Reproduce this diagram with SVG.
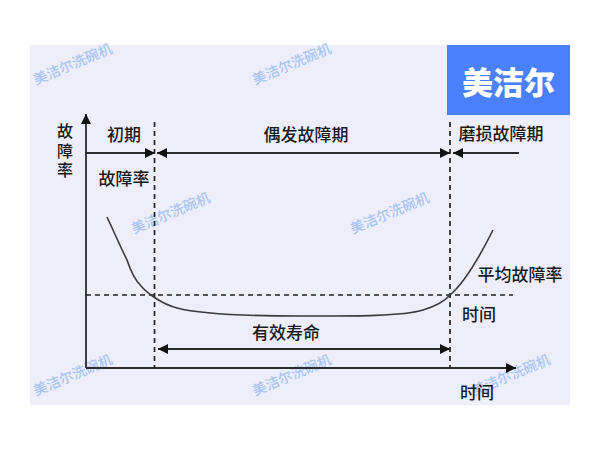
<svg xmlns="http://www.w3.org/2000/svg" width="600" height="450" viewBox="0 0 600 450">
<style>
text{font-family:"Noto Sans CJK SC","Noto Sans",sans-serif}
.l{font-size:17px;font-weight:500;fill:#1a1a1a;text-anchor:middle;dominant-baseline:central}
.v{font-size:16px;font-weight:500;fill:#1a1a1a;writing-mode:vertical-rl;letter-spacing:3.500px}
.w{font-size:14px;font-weight:500;fill:#a9c5f4}
.s{fill:none;stroke:#2b2b2b;stroke-width:1.8}
.d{fill:none;stroke:#222;stroke-width:1.7;stroke-dasharray:5 4}
</style>
<defs>
<marker id="a" markerUnits="userSpaceOnUse" markerWidth="11" markerHeight="11" refX="10" refY="5" orient="auto"><path d="M0 0L10 5L0 10Z" fill="#111"/></marker>
</defs>
<rect width="600" height="450" fill="#fff"/>
<rect x="30" y="45" width="540" height="360" fill="#eeeefa"/>
<g id="watermarks">
<text class="w" transform="translate(36 85) rotate(-23)">美洁尔洗碗机</text>
<text class="w" transform="translate(255 85) rotate(-23)">美洁尔洗碗机</text>
<text class="w" transform="translate(134 234) rotate(-23)">美洁尔洗碗机</text>
<text class="w" transform="translate(353 234) rotate(-23)">美洁尔洗碗机</text>
<text class="w" transform="translate(36 396) rotate(-23)">美洁尔洗碗机</text>
<text class="w" transform="translate(255 396) rotate(-23)">美洁尔洗碗机</text>
<text class="w" transform="translate(474 396) rotate(-23)">美洁尔洗碗机</text>
</g>
<g id="logo">
<rect x="447" y="45" width="123" height="70" fill="#4a80fb"/>
<text x="508.500" y="80" font-size="31" font-weight="900" fill="#fff" text-anchor="middle" dominant-baseline="central">美洁尔</text>
</g>
<g id="connectors">
<path class="s" d="M86 368V114" marker-end="url(#a)"/>
<path class="s" d="M86 368H516" marker-end="url(#a)"/>
<path class="d" d="M154.500 122V368"/>
<path class="d" d="M450 122V368"/>
<path class="d" d="M86 295H513"/>
<path class="s" d="M86 153H155" marker-end="url(#a)"/>
<path class="s" d="M300 153H157" marker-end="url(#a)"/>
<path class="s" d="M300 153H450" marker-end="url(#a)"/>
<path class="s" d="M519 153H453" marker-end="url(#a)"/>
<path class="s" d="M300 349H158" marker-end="url(#a)"/>
<path class="s" d="M300 349H450" marker-end="url(#a)"/>
<path d="M107 217C115 234 121 248 127 260C131 272 135 280 141 286C148 294 162 304 177 308C200 314 250 316 300 316C340 316 400 317 423 310C436 306 445 301 450 295C463 284 478 260 493 230" fill="none" stroke="#3a3a3a" stroke-width="1.6"/>
</g>
<g id="labels">
<text class="v" x="65" y="123">故障率</text>
<text class="l" x="124" y="133">初期</text>
<text class="l" x="124" y="177">故障率</text>
<text class="l" x="306" y="133">偶发故障期</text>
<text class="l" x="501" y="132">磨损故障期</text>
<text class="l" x="520" y="273">平均故障率</text>
<text class="l" x="479" y="313">时间</text>
<text class="l" x="286" y="331">有效寿命</text>
<text class="l" x="477" y="391">时间</text>
</g>
</svg>
